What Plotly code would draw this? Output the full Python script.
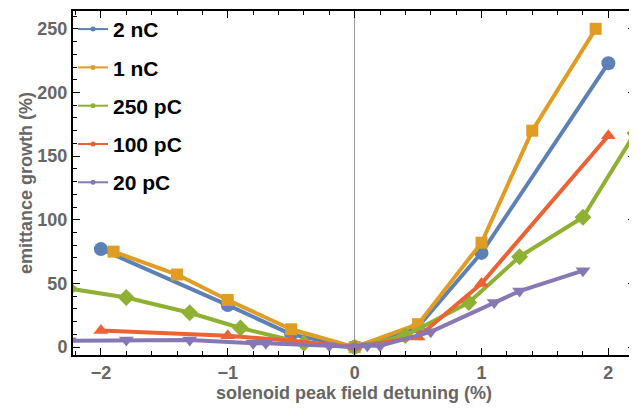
import plotly.graph_objects as go

# ---- data ----
names = ["2 nC", "1 nC", "250 pC", "100 pC", "20 pC"]
x_2nC = [-2, -1, -0.5, 0, 0.5, 1, 2]
y_2nC = [77, 33, 10, 0, 16, 74, 223]
x_1nC = [-1.9, -1.4, -1, -0.5, 0, 0.5, 1, 1.4, 1.9]
y_1nC = [75, 57, 37, 14, 0, 18, 82, 170, 250]
x_250pC = [-2.25, -1.8, -1.3, -0.9, -0.4, 0, 0.4, 0.9, 1.3, 1.8, 2.21]
y_250pC = [46, 39, 27, 15, 3, 0, 9, 35, 71, 102, 168]
x_100pC = [-2, -1, -0.5, 0, 0.5, 1, 2]
y_100pC = [13, 9, 5, 0, 8, 50, 166]
x_20pC = [-2.25, -1.8, -1.3, -0.8, -0.7, -0.2, 0, 0.1, 0.2, 0.6, 1.1, 1.3, 1.8]
y_20pC = [5, 5.5, 5.5, 3, 3, 1, 0, 1, 1, 12, 35, 44, 60]

x_ticks = [-2, -1, 0, 1, 2]
y_ticks = [0, 50, 100, 150, 200, 250]

series = [
    (names[0], x_2nC, y_2nC, "#5E81B5", "circle", 14),
    (names[1], x_1nC, y_1nC, "#E19C24", "square", 12),
    (names[2], x_250pC, y_250pC, "#8FB032", "diamond", 13),
    (names[3], x_100pC, y_100pC, "#EB6235", "triangle-up", 13),
    (names[4], x_20pC, y_20pC, "#8778B3", "triangle-down", 13),
]

fig = go.Figure()
for name, xs, ys, col, sym, sz in series:
    fig.add_trace(go.Scatter(
        x=xs, y=ys, mode="lines+markers", name=name, showlegend=False,
        line=dict(color=col, width=4),
        marker=dict(symbol=sym, size=sz, color=col),
    ))
for i, (name, xs, ys, col, sym, sz) in enumerate(series):
    fig.add_trace(go.Scatter(
        x=[None], y=[None], mode="lines+markers", name=name,
        legendgroup=f"g{i}",
        line=dict(color=col, width=2),
        marker=dict(symbol="circle", size=5, color=col),
    ))

gray = "#666666"
fig.update_layout(
    width=629, height=403,
    margin=dict(l=65, r=2, t=1, b=56),
    plot_bgcolor="white", paper_bgcolor="white",
    font=dict(family="Liberation Sans, Arial", color=gray),
    showlegend=True,
    legend=dict(x=0.0, y=1.006, xanchor="left", yanchor="top",
                bgcolor="rgba(0,0,0,0)", tracegroupgap=8,
                font=dict(size=21, color="black", weight="bold"),
                itemwidth=30),
    xaxis=dict(
        range=[-2.22, 2.21], tickvals=x_ticks, ticks="inside", ticklen=7,
        tickcolor="black", tickwidth=1, showgrid=False,
        zeroline=True, zerolinecolor="#999999", zerolinewidth=1,
        showline=True, linecolor="black", linewidth=2, mirror="allticks",
        tickfont=dict(size=18, color=gray, weight="bold"),
        minor=dict(dtick=0.2, ticks="inside", ticklen=4, tickcolor="black", showgrid=False),
        title=dict(text="solenoid peak field detuning (%)",
                   font=dict(size=18, color=gray, weight="bold"), standoff=5),
    ),
    yaxis=dict(
        range=[-6.2, 264], tickvals=y_ticks, ticks="inside", ticklen=7,
        tickcolor="black", tickwidth=1, showgrid=False, zeroline=False,
        showline=True, linecolor="black", linewidth=2, mirror="allticks",
        tickfont=dict(size=18, color=gray, weight="bold"),
        minor=dict(dtick=10, ticks="inside", ticklen=4, tickcolor="black", showgrid=False),
        title=dict(text="emittance growth (%)",
                   font=dict(size=18, color=gray, weight="bold"), standoff=0),
    ),
)

fig.write_html("out.html")
